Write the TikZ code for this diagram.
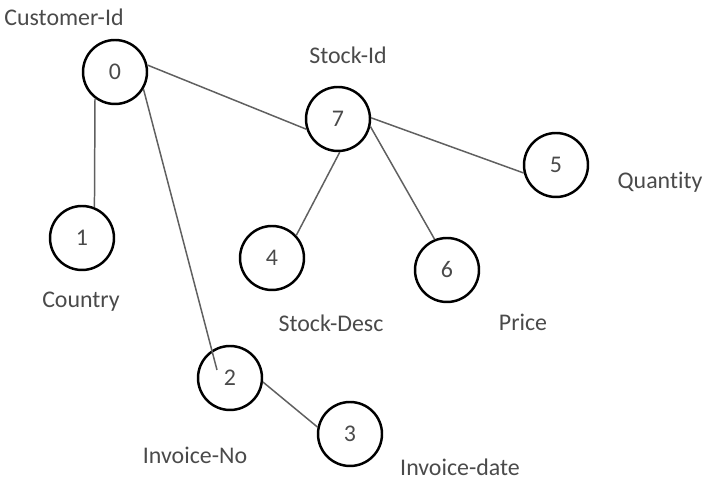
\documentclass[tikz,border=0pt]{standalone}
\usepackage{fontspec}
\setmainfont{Carlito}[Ligatures=NoCommon]
\definecolor{inkgray}{HTML}{4A4A4A}
\definecolor{linegray}{HTML}{606060}
\tikzset{
  attr/.style={circle,draw=black,line width=1.4pt,minimum size=1.28cm,inner sep=0pt,
    text=inkgray,font=\fontsize{13.6}{16}\selectfont},
  lbl/.style={text=inkgray,font=\fontsize{13.6}{16}\selectfont,inner sep=0pt},
  edge/.style={draw=linegray,line width=0.85pt}
}
\begin{document}
\begin{tikzpicture}[x=0.02cm,y=-0.02cm]
\useasboundingbox (0,0) rectangle (716,492);

% attributes
\node[attr] (n0) at (115,72) {0};
\node[attr] (n1) at (82,238) {1};
\node[attr] (n2) at (230,378) {2};
\node[attr] (n3) at (350,434) {3};
\node[attr] (n4) at (272,258) {4};
\node[attr] (n5) at (556,165) {5};
\node[attr] (n6) at (447,270) {6};
\node[attr] (n7) at (338,119) {7};

% names
\node[lbl] (l0) at (64,17) {Customer-Id};
\node[lbl] (l1) at (81,302) {Country};
\node[lbl] (l2) at (195,455) {Invoice-No};
\node[lbl] (l3) at (460,467) {Invoice-date};
\node[lbl] (l4) at (331,323) {Stock-Desc};
\node[lbl] (l5) at (660,182) {Quantity};
\node[lbl] (l6) at (523,322) {Price};
\node[lbl] (l7) at (348,55) {Stock-Id};

% dependencies
\draw[edge] (n0.-127) -- (n1.68);
\draw[edge] (n0.-31) -- ([shift={(-13,-8)}]n2.center);
\draw[edge] (n2.-7) -- (n3.168);
\draw[edge] (n0.12) -- (n7.-162);
\draw[edge] (n7.2) -- (n5.-166);
\draw[edge] (n7.-87) -- (n4.43);
\draw[edge] (n7.-13) -- (n6.112);
\end{tikzpicture}
\end{document}
